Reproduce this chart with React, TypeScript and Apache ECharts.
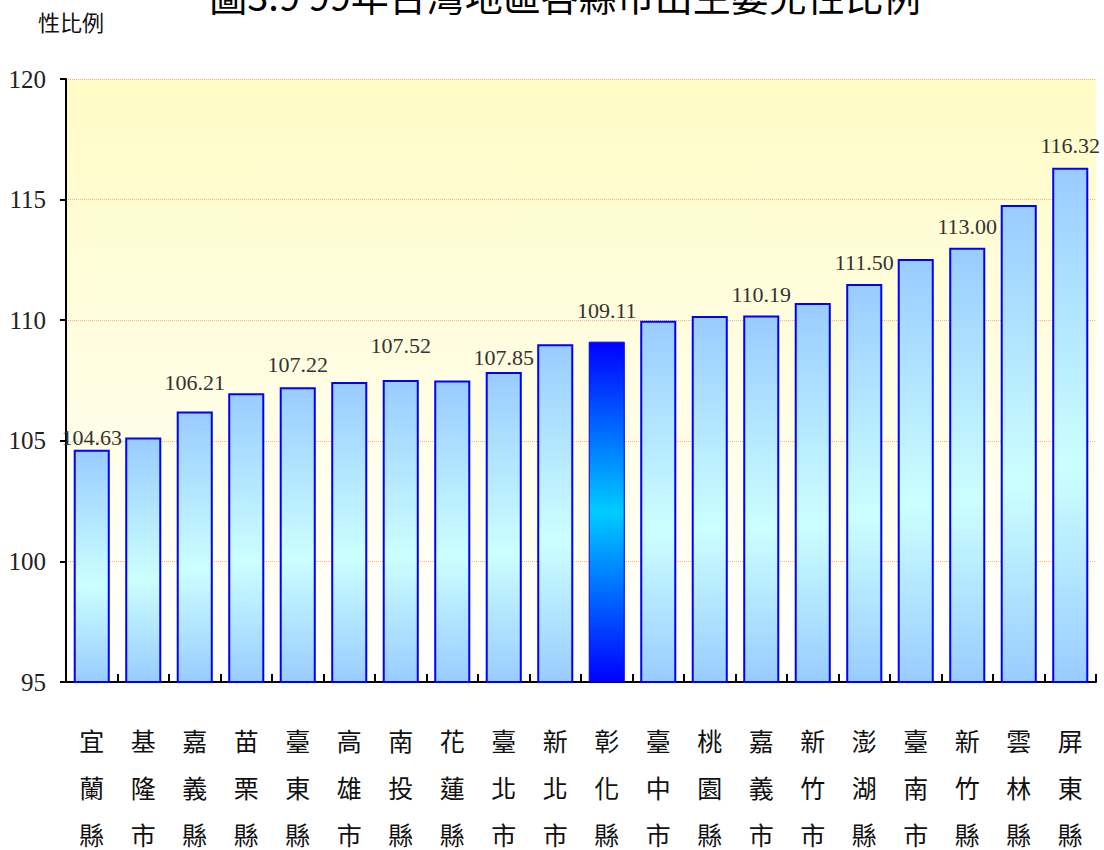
import React, { useEffect, useRef } from "react";
import * as echarts from "echarts";

const categories = [
  "宜蘭縣", "基隆市", "嘉義縣", "苗栗縣", "臺東縣", "高雄市", "南投縣", "花蓮縣", "臺北市", "新北市",
  "彰化縣", "臺中市", "桃園縣", "嘉義市", "新竹市", "澎湖縣", "臺南市", "新竹縣", "雲林縣", "屏東縣",
];
const values = [
  104.63, 105.14, 106.21, 106.97, 107.22, 107.44, 107.52, 107.5, 107.85, 109.0,
  109.11, 109.98, 110.17, 110.19, 110.71, 111.5, 112.54, 113.0, 114.78, 116.32,
];
const labeledIndices = [0, 2, 4, 6, 8, 10, 13, 15, 17, 19];
const highlightIndex = 10;
const yTicks = { min: 95, max: 120, interval: 5 };
const titleText = "圖3.9 99年台灣地區各縣市出生嬰兒性比例";
const yName = "性比例";

// styling: label gap above each labelled bar
const labelGap: Record<number, number> = { 0: 1, 2: 18, 4: 12, 6: 24, 8: 4, 10: 20, 13: 10, 15: 11, 17: 10, 19: 11 };

const normalFill = new echarts.graphic.LinearGradient(0, 0, 0, 1, [
  { offset: 0, color: "#99CCFF" },
  { offset: 0.58, color: "#CCFFFF" },
  { offset: 1, color: "#99CCFF" },
]);
const hiFill = new echarts.graphic.LinearGradient(0, 0, 0, 1, [
  { offset: 0, color: "#0000FF" },
  { offset: 0.5, color: "#00CCFF" },
  { offset: 1, color: "#0000FF" },
]);

export default function App() {
  const ref = useRef<HTMLDivElement>(null);
  useEffect(() => {
    if (!ref.current) return;
    const chart = echarts.init(ref.current, undefined, { renderer: "svg" });
    const data = values.map((v, i) => {
      const labelled = labeledIndices.includes(i);
      return {
        value: v,
        itemStyle: i === highlightIndex
          ? { color: hiFill, borderColor: "#0000FF", borderWidth: 1 }
          : { color: normalFill, borderColor: "#0000FF", borderWidth: 2 },
        label: {
          show: labelled,
          position: "top",
          distance: labelGap[i] ?? 10,
          formatter: (p: any) => Number(p.value).toFixed(2),
          fontFamily: "Liberation Serif",
          fontSize: 22,
          color: "#333333",
        },
      };
    });
    chart.setOption({
      animation: false,
      graphic: [
        {
          type: "text",
          x: 565,
          y: -25,
          style: {
            text: titleText,
            fontSize: 38,
            fontFamily: "Noto Sans CJK TC",
            fill: "#000",
            textAlign: "center",
            textVerticalAlign: "top",
          },
        },
        {
          type: "text",
          x: 38,
          y: 10,
          style: {
            text: yName,
            fontSize: 22,
            fontFamily: "Noto Sans CJK TC",
            fill: "#111",
          },
        },
      ],
      grid: {
        left: 66,
        right: 8,
        top: 79,
        bottom: 168,
        outerBoundsMode: "none",
        containLabel: false,
        show: true,
        borderWidth: 0,
        backgroundColor: new echarts.graphic.LinearGradient(0, 0, 0, 1, [
          { offset: 0, color: "#FFFCC6" },
          { offset: 1, color: "#FFFFFF" },
        ]),
      },
      xAxis: {
        type: "category",
        data: categories,
        axisLine: { lineStyle: { color: "#000", width: 2 } },
        axisTick: { show: true, inside: true, length: 8, lineStyle: { color: "#000", width: 2 } },
        axisLabel: {
          interval: 0,
          margin: 34,
          fontFamily: "Noto Sans CJK TC",
          fontSize: 25,
          lineHeight: 47,
          color: "#111",
          formatter: (s: string) => s.split("").join("\n"),
        },
      },
      yAxis: {
        type: "value",
        min: yTicks.min,
        max: yTicks.max,
        interval: yTicks.interval,
        axisLine: { show: true, lineStyle: { color: "#000", width: 2 } },
        axisTick: { show: true, length: 6, lineStyle: { color: "#000", width: 2 } },
        axisLabel: {
          fontFamily: "Liberation Serif",
          fontSize: 25,
          color: "#222",
          margin: 20,
        },
        splitLine: { show: true, lineStyle: { color: "#FFB07A", type: "dotted", width: 1 } },
      },
      series: [
        {
          type: "bar",
          data,
          barWidth: "70%",
        },
      ],
    });
    return () => chart.dispose();
  }, []);
  return <div ref={ref} style={{ width: 1104, height: 850, position: "absolute", left: 0, top: 0 }} />;
}
